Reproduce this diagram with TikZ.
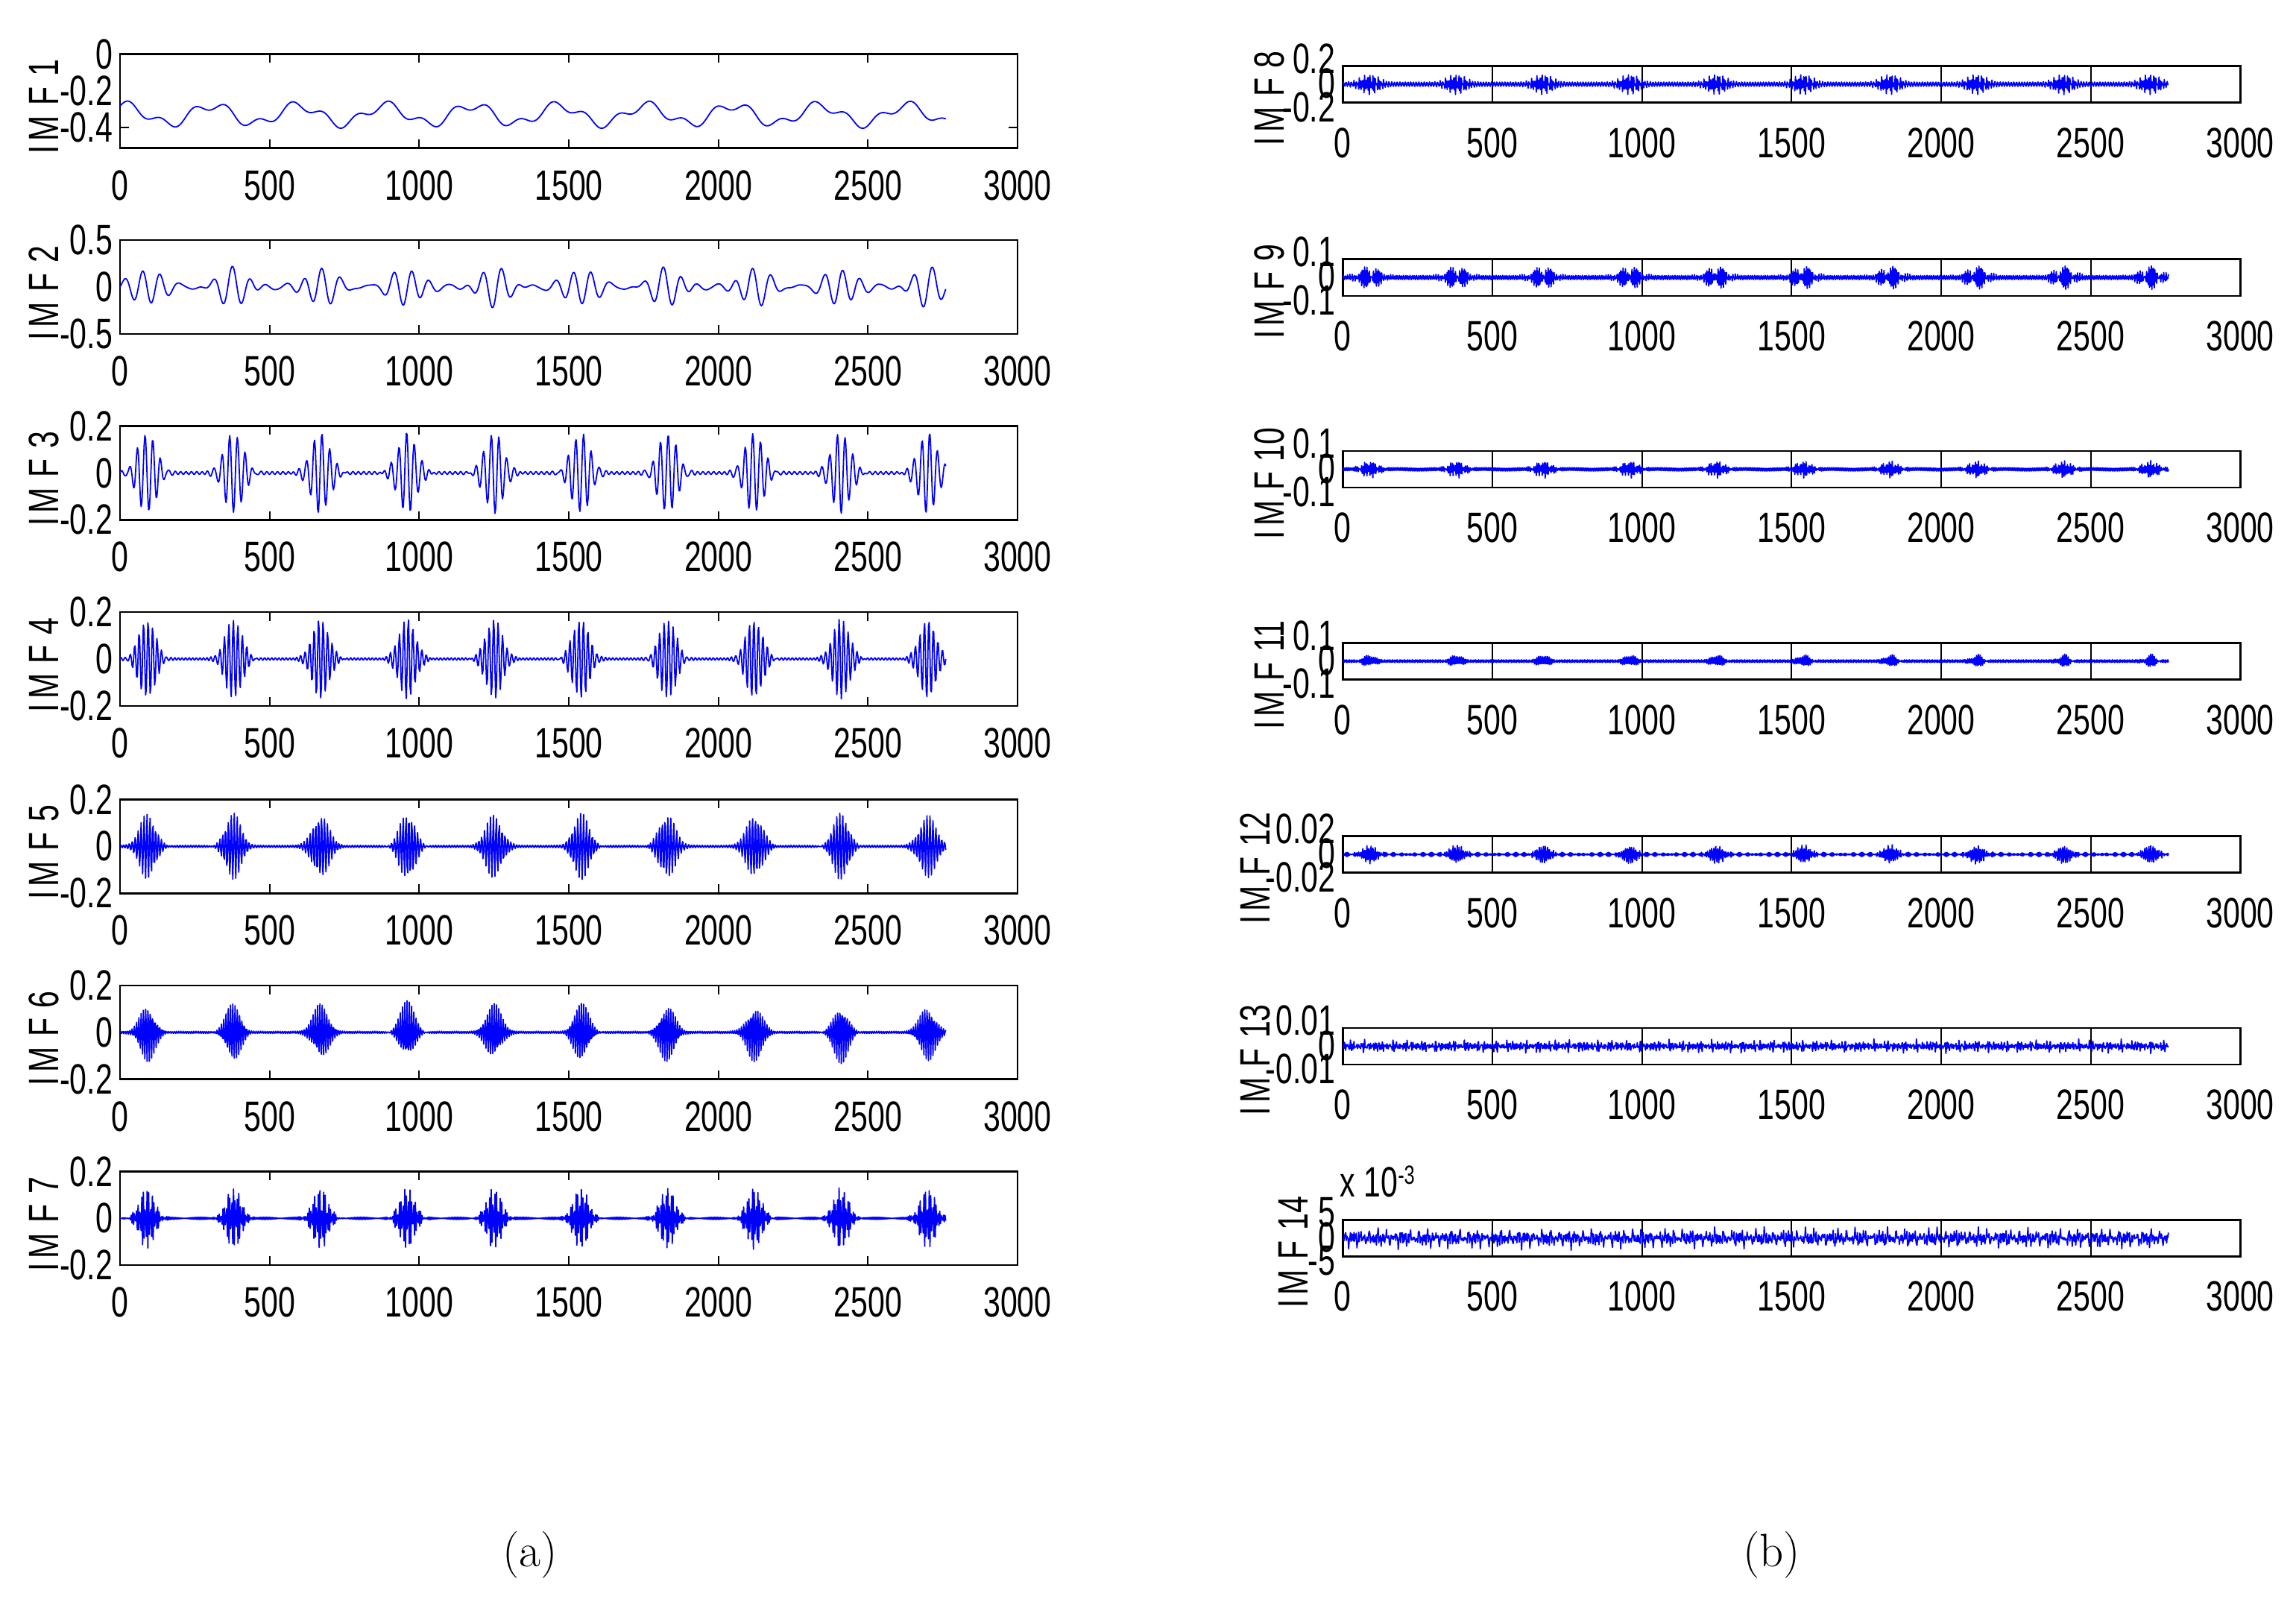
\documentclass[tikz,border=0pt]{standalone}
\usepackage{fontspec}
\newfontfamily\mfont[FakeStretch=0.72]{Liberation Sans}
\begin{document}
\begin{tikzpicture}[x=1pt,y=-1pt,
  box/.style={draw=black,line width=1.3pt,inner sep=0pt,outer sep=0pt},
  sig/.style={draw=blue,line width=0.9pt,line join=round},
  tk/.style={font=\mfont\fontsize{29}{30}\selectfont,inner sep=0pt},
  ylab/.style={tk,rotate=90},
  declare function={env(\t,\w)=exp(-((mod(\t+55,290)-145)/\w)^2);
    ss(\t,\k)=sin(\k*mod(\t,360/\k));}]
\useasboundingbox (0,0) rectangle (1568,1096);
\fill[white] (0,0) rectangle (1568,1096);
\newcommand\imf[1]{I\kern3pt M\kern7pt F\kern7pt #1}
% left panels
\newcommand\lpanel[7]{%
  \node[box,minimum width=613pt,minimum height=64pt,anchor=north west] (L#2) at (82,#1) {};
  \foreach \v in {500,1000,...,2500}{
    \draw[line width=1pt] ({82+\v*0.2043},#1) -- ++(0,6);
    \draw[line width=1pt] ({82+\v*0.2043},#1+64) -- ++(0,-6);}
  \foreach \v in {0,500,...,3000}
    \node[tk,anchor=north] at ({82+\v*0.2043},#1+79) {\v};
  \node[tk,anchor=east] at (77,#1) {#3};
  \node[tk,anchor=east] at (77,#1+32) {#4};
  \node[tk,anchor=east] at (77,#1+64) {#5};
  \node[ylab] (Y#2) at (30,#1+36) {\imf{#2}};
  \draw[sig] plot[domain=0:2760,samples=1100] ({82+\x*0.2043},{#6-(#7)});
}
\lpanel{37}{1}{0}{}{}{37}{125*(-0.33+0.05*sin(\x*1.24+70)+0.025*ss(\x,3.3))}
\node[tk,anchor=east] (T1a) at (77,62) {-0.2};
\node[tk,anchor=east] (T1b) at (77,87) {-0.4};
\draw[line width=1pt] (82,87) -- (88,87) (695,87) -- (689,87);
\lpanel{164}{2}{0.5}{0}{-0.5}{196}{64*(0.2*env(\x,70)*ss(\x,6)+0.025*ss(\x,4))}
\lpanel{291}{3}{0.2}{0}{-0.2}{323}{160*(0.17*env(\x,45)*ss(\x,14)+0.006*ss(\x,20))}
\lpanel{418}{4}{0.2}{0}{-0.2}{450}{160*(0.17*env(\x,40)*ss(\x,24)+0.005*ss(\x,30))}
\lpanel{546}{5}{0.2}{0}{-0.2}{578}{160*(0.14*env(\x,38)*ss(\x,37)+0.005*ss(\x,40))}
\lpanel{673}{6}{0.2}{0}{-0.2}{705}{160*(0.13*env(\x,35)*ss(\x,47)+0.005*ss(\x,50))}
\lpanel{800}{7}{0.2}{0}{-0.2}{832}{160*(0.13*env(\x,35)*ss(\x,61)+0.005*ss(\x,70))}
% right panels
\newcommand\rpanel[7]{%
  \node[box,minimum width=613pt,minimum height=25pt,anchor=north west] (R#2) at (917,#1) {};
  \foreach \v in {500,1000,...,2500}
    \draw[line width=1pt] ({917+\v*0.2043},#1) -- ++(0,25);
  \foreach \v in {0,500,...,3000}
    \node[tk,anchor=north] at ({917+\v*0.2043},#1+42) {\v};
  \node[tk,anchor=east] at (912,#1-5) {#3};
  \node[tk,anchor=east] at (912,#1+12) {#4};
  \node[tk,anchor=east] at (912,#1+28) {#5};
  \node[ylab] (Y#2) at (#6,#1+22) {\imf{#2}};
  \draw[sig] plot[domain=0:2760,samples=1400] ({917+\x*0.2043},{#1+12.5-(#7)});
}
\rpanel{45}{8}{0.2}{0}{-0.2}{867}{6*env(\x,45)*ss(\x,80)+1.5*ss(\x,40)}
\rpanel{177}{9}{0.1}{0}{-0.1}{867}{7*env(\x,45)*ss(\x,95)+1.5*ss(\x,50)}
\rpanel{308}{10}{0.1}{0}{-0.1}{867}{5*env(\x,35)*ss(\x,110)+1.2*ss(\x,60)}
\rpanel{439}{11}{0.1}{0}{-0.1}{867}{4*env(\x,25)*ss(\x,120)+1*ss(\x,70)}
\rpanel{571}{12}{0.02}{0}{-0.02}{857}{6*env(\x,30)*ss(\x,130)+1.5*ss(\x,97)*ss(\x,7)}
\rpanel{702}{13}{0.01}{0}{-0.01}{857}{4*ss(\x,137)*ss(\x,11.3)*ss(\x,3.7)+1.5*ss(\x,71)}
\rpanel{833}{14}{5}{0}{-5}{883}{6*ss(\x,151)*ss(\x,13.1)*ss(\x,5.3)+2.5*ss(\x,89)}
\node[tk,anchor=south west] (X14) at (915,818) {x 10$^{\mbox{\fontsize{18}{18}\selectfont -3}}$};
\node[font=\fontsize{32}{34}\selectfont] (ca) at (362,1062) {(a)};
\node[font=\fontsize{32}{34}\selectfont] (cb) at (1210,1062) {(b)};
\end{tikzpicture}
\end{document}
